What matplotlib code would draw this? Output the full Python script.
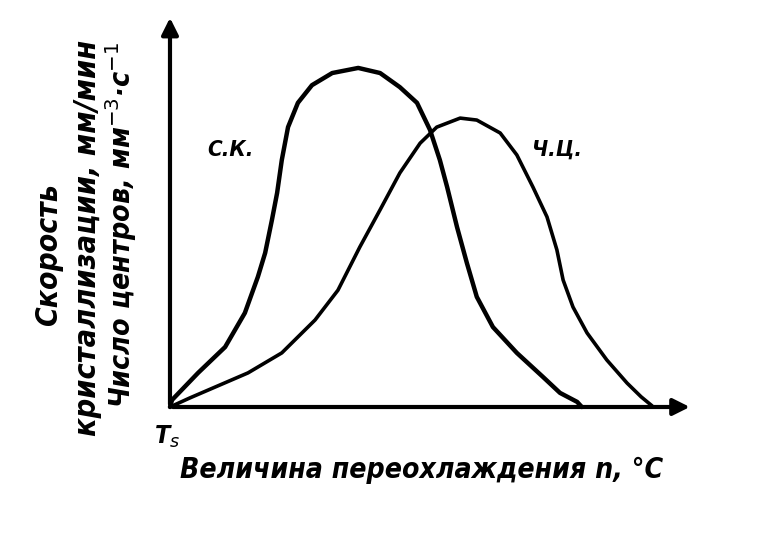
import matplotlib.pyplot as plt

# Overcooling (arbitrary units, 0..100 along the x axis)
# С.К. - crystallisation rate
sk_x = [0, 0.4, 5.4, 10.6, 14.4, 16.9, 18.3, 19.6, 20.6, 21.5, 22.7, 24.6, 27.3,
        31.2, 36.2, 40.4, 44.2, 47.5, 50.0, 51.9, 53.3, 55.2, 57.1, 59.0, 62.1,
        66.7, 71.7, 75.0, 78.3, 79.2]
sk_y = [0, 1.8, 8.7, 15.3, 24.0, 33.2, 39.3, 47.7, 54.6, 63.0, 71.4, 77.6, 82.1,
        85.2, 86.5, 85.2, 81.6, 77.6, 70.7, 63.0, 56.1, 45.9, 36.7, 28.1, 20.4,
        13.8, 7.7, 3.6, 1.3, 0]

# Ч.Ц. - number of centres
cc_x = [0, 3.8, 8.7, 15.0, 21.5, 27.9, 32.3, 36.5, 40.4, 44.2, 48.1, 51.3, 55.8,
        59.0, 63.5, 66.7, 69.8, 72.5, 74.4, 75.6, 77.5, 80.2, 84.0, 87.9, 90.6, 92.7]
cc_y = [0, 2.3, 5.1, 8.7, 13.8, 22.2, 29.8, 40.8, 50.3, 59.7, 67.3, 71.4, 73.7,
        73.2, 69.9, 64.3, 56.1, 48.5, 40.1, 32.4, 25.5, 18.9, 12.0, 6.1, 2.6, 0.3]

fig = plt.figure(figsize=(7.76, 5.34), dpi=100)
ax = fig.add_axes([0, 0, 1, 1])
ax.set_xlim(-32.69, 116.54)
ax.set_ylim(-32.40, 103.83)
ax.axis('off')

ax.plot(sk_x, sk_y, color='black', lw=3.2, solid_joinstyle='round', solid_capstyle='round')
ax.plot(cc_x, cc_y, color='black', lw=2.6, solid_joinstyle='round', solid_capstyle='round')

# axes with arrows
ax.annotate('', xy=(100.5, 0), xytext=(0, 0),
            arrowprops=dict(arrowstyle='-|>', color='black', lw=3, mutation_scale=25))
ax.annotate('', xy=(0, 100), xytext=(0, 0),
            arrowprops=dict(arrowstyle='-|>', color='black', lw=3, mutation_scale=25))

kw = dict(family='DejaVu Sans', stretch='condensed', style='italic', weight='bold', color='black')

def fx(px):
    return px / 776

def fy(py):
    return 1 - py / 534

fig.text(fx(230), fy(150), 'С.К.', ha='center', va='center', fontsize=16, **kw)
fig.text(fx(557), fy(150), 'Ч.Ц.', ha='center', va='center', fontsize=16, **kw)

fig.text(fx(49), fy(255), 'Скорость', rotation=90, ha='center', va='center', fontsize=21.5, **kw)
fig.text(fx(88), fy(238), 'кристаллизации, мм/мин', rotation=90, ha='center', va='center', fontsize=22, **kw)
fig.text(fx(121), fy(225), 'Число центров, мм$^{-3}$·с$^{-1}$', rotation=90, ha='center', va='center', fontsize=20.5, **kw)

fig.text(fx(167), fy(437), 'T$_s$', ha='center', va='center', fontsize=18, **kw)
fig.text(fx(422), fy(470), 'Величина переохлаждения n, °C', ha='center', va='center', fontsize=20.3, **kw)

fig.savefig('out.png', dpi=100, facecolor='white')
